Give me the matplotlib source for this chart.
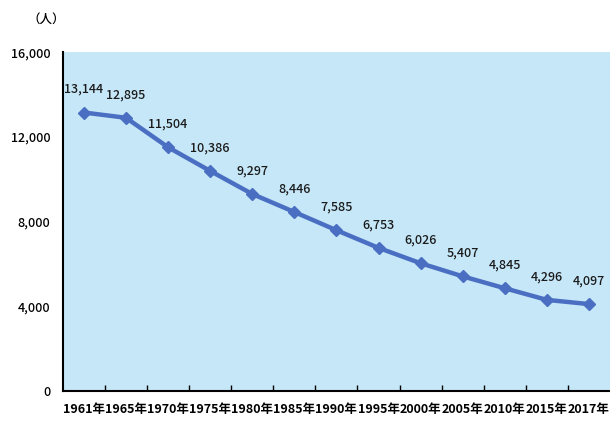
import matplotlib
matplotlib.use("Agg")
import matplotlib.pyplot as plt

plt.rcParams['font.family'] = ['Noto Sans CJK JP', 'DejaVu Sans']

years = ["1961年", "1965年", "1970年", "1975年", "1980年", "1985年", "1990年",
         "1995年", "2000年", "2005年", "2010年", "2015年", "2017年"]
people = [13144, 12895, 11504, 10386, 9297, 8446, 7585, 6753, 6026, 5407, 4845, 4296, 4097]
yticks = [0, 4000, 8000, 12000, 16000]

fig = plt.figure(figsize=(6.10, 4.23), dpi=100)
ax = fig.add_axes([0.103, 0.076, 0.897, 0.801])
ax.set_facecolor("#c6e7f8")

x = list(range(len(years)))
ax.plot(x, people, color="#4a6fc2", linewidth=3.2, marker="D", markersize=6.5,
        markerfacecolor="#4a6fc2", markeredgecolor="#4a6fc2")
for xi, v in zip(x, people):
    ax.annotate(f"{v:,}", (xi, v), xytext=(0, 12), textcoords="offset points",
                ha="center", va="bottom", fontsize=9, fontweight="medium",
                color="#1a1a1a")

ax.set_xlim(-0.5, len(years) - 0.5)
ax.set_ylim(0, 16000)
ax.set_yticks(yticks)
ax.set_yticklabels([f"{t:,}" for t in yticks], fontsize=9, fontweight="medium")
ax.set_xticks([i + 0.5 for i in range(len(years) - 1)], minor=False)
ax.set_xticklabels([])
ax.set_xticks(x, minor=True)
ax.set_xticklabels(years, minor=True, fontsize=9, fontweight="bold")
ax.tick_params(axis="x", which="major", direction="in", length=4, width=1)
ax.tick_params(axis="x", which="minor", length=0, pad=9)
ax.tick_params(axis="y", length=0, pad=9)

for s in ["top", "right"]:
    ax.spines[s].set_visible(False)
ax.spines["left"].set_linewidth(1.5)
ax.spines["bottom"].set_linewidth(1.5)

fig.text(0.075, 0.955, "（人）", fontsize=9, fontweight="medium", ha="center", va="center")

fig.savefig("out.png", dpi=100)
